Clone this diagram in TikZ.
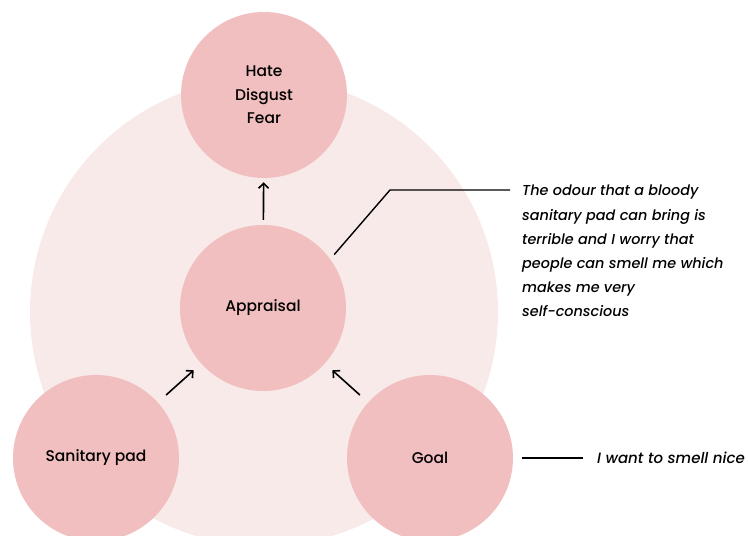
\documentclass[tikz,border=0pt]{standalone}
\usepackage{fontspec}
\setmainfont{Poppins}[UprightFont=* Medium, ItalicFont=* Medium Italic]
\usetikzlibrary{arrows.meta}
\definecolor{bubble}{HTML}{F1BFBF}
\definecolor{halo}{HTML}{F9EAEA}
\begin{document}
\begin{tikzpicture}[x=1pt,y=1pt,
  bubble/.style={circle,fill=bubble,minimum size=166pt,inner sep=0pt,align=center,font=\fontsize{15.5}{23.5}\selectfont},
  link/.style={line width=1.6pt,-{Straight Barb[length=5pt,width=10pt,line width=1.6pt]}},
  leader/.style={line width=1.4pt},
  quote/.style={anchor=north west,align=left,inner sep=0pt,font=\fontsize{14.4}{24.2}\selectfont\itshape}]
\useasboundingbox (0,0) rectangle (748,536);
% soft background disc
\fill[halo] (264,224) circle (234);
% the four bubbles
\node[bubble] (emo) at (264,441) {\raisebox{-3pt}{\parbox{100pt}{\centering Hate\\Disgust\\Fear}}};
\node[bubble] (app) at (263,228) {Appraisal};
\node[bubble] (pad) at (96,78) {Sanitary pad};
\node[bubble] (goal) at (430,78) {Goal};
% arrows into and out of the appraisal
\draw[link,shorten <=5pt,shorten >=4pt] (app) -- (emo);
\draw[link,shorten <=11pt,shorten >=10pt] (pad) -- (app);
\draw[link,shorten <=11pt,shorten >=10pt] (goal) -- (app);
% quotes with leader lines
\coordinate (k1) at (390,346);
\coordinate (k2) at (510,346);
\draw[leader,shorten <=6pt] (app.36) -- (k1) -- (k2);
\node[quote] (q1) at (522,351) {The odour that a bloody\\sanitary pad can bring is\\terrible and I worry that\\people can smell me which\\makes me very\\self-conscious};
\coordinate (k3) at (522,78);
\coordinate (k4) at (583,78);
\draw[leader] (k3) -- (k4);
\node[quote,anchor=west,font=\fontsize{15}{18}\selectfont\itshape] (q2) at (597,78) {I want to smell nice};
\end{tikzpicture}
\end{document}
